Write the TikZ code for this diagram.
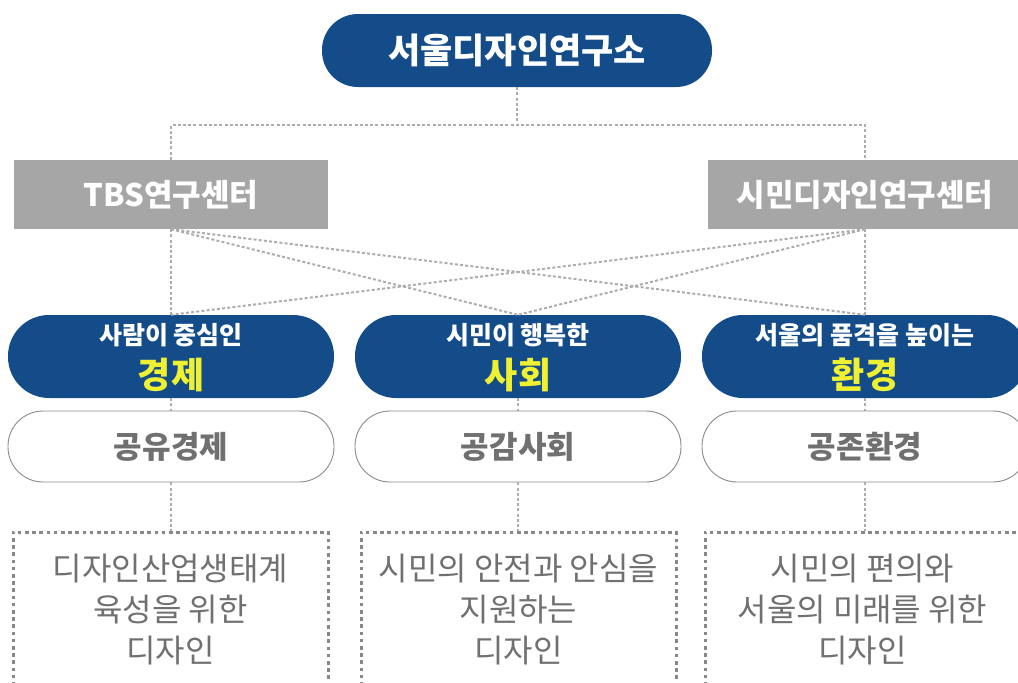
\documentclass[tikz,border=0pt]{standalone}
\usepackage{fontspec}
\setmainfont{Noto Sans CJK KR}
\definecolor{navy}{HTML}{144C8A}
\definecolor{boxgray}{HTML}{A6A6A6}
\definecolor{hl}{HTML}{F0F032}
\definecolor{txtgray}{HTML}{707070}
\definecolor{linegray}{HTML}{ADADAD}
\definecolor{dotgray}{HTML}{888888}
\definecolor{pillline}{HTML}{8A8A8A}
\begin{document}
\begin{tikzpicture}[x=1pt,y=-1pt,
  conn/.style={draw=linegray, line width=2pt, dash pattern=on 3pt off 2.2pt},
  toppill/.style={fill=navy, rounded corners=36pt, minimum width=390pt, minimum height=73pt,
    text=white, font=\bfseries\fontsize{35}{38}\selectfont, inner sep=0pt},
  graybox/.style={fill=boxgray, minimum width=314pt, minimum height=69pt,
    text=white, font=\bfseries\fontsize{31}{34}\selectfont, inner sep=0pt},
  bluepill/.style={fill=navy, rounded corners=41pt, minimum width=326pt, minimum height=83pt, inner sep=0pt},
  smalltxt/.style={text=white, font=\bfseries\fontsize{25}{28}\selectfont, inner sep=0pt},
  bigtxt/.style={text=hl, font=\bfseries\fontsize{36}{40}\selectfont, inner sep=0pt},
  whitepill/.style={draw=pillline, line width=0.9pt, fill=white, rounded corners=35pt,
    minimum width=326pt, minimum height=71pt, text=txtgray,
    font=\bfseries\fontsize{31}{34}\selectfont, inner sep=0pt},
  dotbox/.style={draw=dotgray, line width=3pt, dash pattern=on 3.6pt off 3.6pt,
    minimum width=315pt, minimum height=156pt, text=txtgray, align=center,
    font=\fontsize{32}{41}\selectfont, inner sep=0pt}
]
\useasboundingbox (0,0) rectangle (1018,683);

% nodes
\node[toppill] (top) at (517,50.5) {서울디자인연구소};
\node[graybox] (tbs) at (171,194.5) {TBS연구센터};
\node[graybox] (cdr) at (865,194.5) {시민디자인연구센터};

\node[bluepill] (p1) at (171,356.5) {};
\node[bluepill] (p2) at (518,356.5) {};
\node[bluepill] (p3) at (865,356.5) {};

\node[whitepill] (w1) at (171,446.5) {공유경제};
\node[whitepill] (w2) at (518,446.5) {공감사회};
\node[whitepill] (w3) at (865,446.5) {공존환경};

\node[dotbox] (d1) at (170.5,610) {디자인산업생태계\\육성을 위한\\디자인};
\node[dotbox] (d2) at (518.5,610) {시민의 안전과 안심을\\지원하는\\디자인};
\node[dotbox] (d3) at (862.5,610) {시민의 편의와\\서울의 미래를 위한\\디자인};

% connectors
\coordinate (hub) at (517,125);
\draw[conn] (top.south) -- (hub);
\draw[conn] (tbs.north) -- (tbs.north |- hub) -- (cdr.north |- hub) -- (cdr.north);
\draw[conn] (tbs.south) -- (p1.north);
\draw[conn] (tbs.south) -- (p2.north);
\draw[conn] (tbs.south) -- (p3.north);
\draw[conn] (cdr.south) -- (p1.north);
\draw[conn] (cdr.south) -- (p2.north);
\draw[conn] (cdr.south) -- (p3.north);
\draw[conn] (p1.south) -- (w1.north);
\draw[conn] (p2.south) -- (w2.north);
\draw[conn] (p3.south) -- (w3.north);
\draw[conn] (w1.south) -- (d1.north -| w1.south);
\draw[conn] (w2.south) -- (d2.north -| w2.south);
\draw[conn] (w3.south) -- (d3.north -| w3.south);

% pill texts
\node[smalltxt, anchor=base] (t1a) at (171,344) {사람이 중심인};
\node[bigtxt, anchor=base] (t1b) at (171,388) {경제};
\node[smalltxt, anchor=base] (t2a) at (518,344) {시민이 행복한};
\node[bigtxt, anchor=base] (t2b) at (518,388) {사회};
\node[smalltxt, anchor=base] (t3a) at (865,344) {서울의 품격을 높이는};
\node[bigtxt, anchor=base] (t3b) at (865,388) {환경};
\end{tikzpicture}
\end{document}
